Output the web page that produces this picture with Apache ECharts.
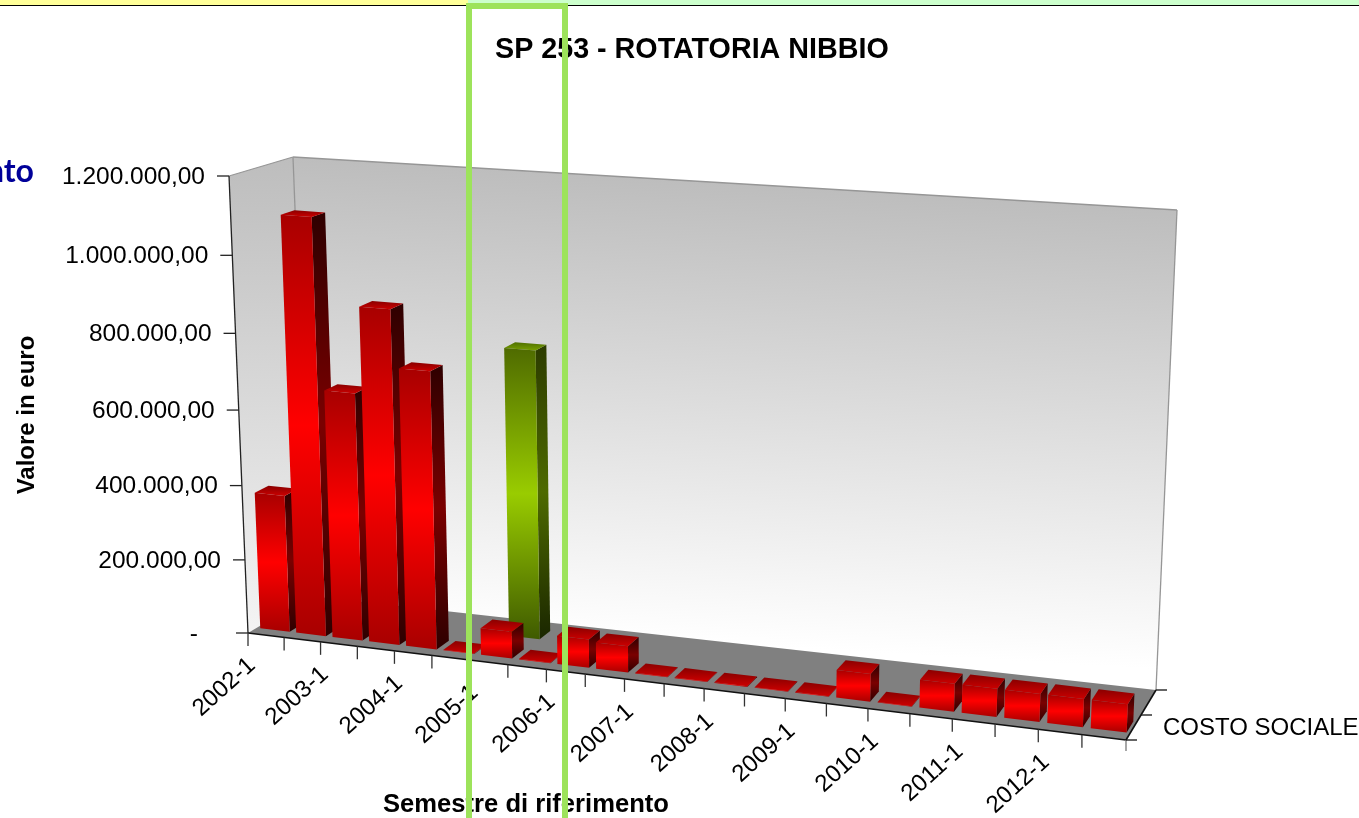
<!DOCTYPE html>
<html>
<head>
<meta charset="utf-8">
<title>SP 253 - ROTATORIA NIBBIO</title>
<script src="https://cdn.jsdelivr.net/npm/echarts@6/dist/echarts.min.js"></script>
<style>
html, body { margin: 0; padding: 0; background: #ffffff; overflow: hidden; }
#chart { width: 1359px; height: 818px; }
</style>
</head>
<body>
<div id="chart"></div>
<script>
var categories = ['2002-1', '2002-2', '2003-1', '2003-2', '2004-1', '2004-2', '2005-1', '2005-2',
  '2006-1', '2006-2', '2007-1', '2007-2', '2008-1', '2008-2', '2009-1', '2009-2', '2010-1', '2010-2',
  '2011-1', '2011-2', '2012-1', '2012-2']
// front row, red
var costoSociale = [370000, 1103000, 660000, 885000, 735000, 1500, 72000, 1500,
  76000, 70000, 1500, 1500, 1500, 1500, 1500, 72000, 1500, 72000,
  72000, 72000, 72000, 72000]
// back row, only one bar
var secondaSerie = [null, null, null, null, null, null, 770000, null,
  null, null, null, null, null, null, null, null, null, null,
  null, null, null, null]
var yTicks = [0, 200000, 400000, 600000, 800000, 1000000, 1200000]
var yTickLabels = ['-', '200.000,00', '400.000,00', '600.000,00', '800.000,00', '1.000.000,00', '1.200.000,00']
var depthTicks = [0, 0.5, 1]

var FONT = '"Liberation Sans", Arial, sans-serif'

// the eight corners of the 3d box as seen on the picture
var FLB = [248, 633], FRB = [1126, 740], FLT = [229, 176], FRT = [1146, 242]
var BLB = [310, 596], BRB = [1156, 690], BLT = [293, 157], BRT = [1177, 210]

function persp (x, k) {
  return x / (x + k * (1 - x))
}
function mix (a, b, t) {
  return [a[0] + (b[0] - a[0]) * t, a[1] + (b[1] - a[1]) * t]
}
// u along categories, v along values, w along depth, all 0..1
function project (u, v, w) {
  var tu = persp(u, 1.11)
  var tv = persp(v, 1.05)
  var front = mix(mix(FLB, FRB, tu), mix(FLT, FRT, tu), tv)
  var back = mix(mix(BLB, BRB, tu), mix(BLT, BRT, tu), tv)
  return mix(front, back, w)
}
function gradient (stops) {
  return new echarts.graphic.LinearGradient(0, 0, 0, 1, stops.map(function (c, i) {
    return {offset: i / (stops.length - 1), color: c}
  }))
}
function poly (points, fill) {
  return {type: 'polygon', shape: {points: points}, style: {fill: fill, stroke: null}}
}
function line (a, b, color, width) {
  return {
    type: 'line',
    shape: {x1: a[0], y1: a[1], x2: b[0], y2: b[1]},
    style: {stroke: color, lineWidth: width || 1.3}
  }
}
function label (text, x, y, opts) {
  return {
    type: 'text',
    x: x,
    y: y,
    rotation: opts.rotation || 0,
    style: {
      text: text,
      fill: '#000000',
      font: (opts.size || 24) + 'px ' + FONT,
      align: opts.align || 'left',
      verticalAlign: 'middle'
    }
  }
}

function renderBar (w0, w1, shift, c) {
  return function (params, api) {
    var val = api.value(1)
    if (val === null || isNaN(val)) return
    var base = api.coord([api.value(0), 0])
    var top = api.coord([api.value(0), val])
    var W = api.getWidth()
    var band = api.size([1, 0])[0]
    var u0 = (base[0] + band * (shift - 0.40)) / W
    var u1 = (base[0] + band * (shift + 0.42)) / W
    var v = 1 - top[1] / api.getHeight()
    var fb0 = project(u0, 0, w0), fb1 = project(u1, 0, w0)
    var ft0 = project(u0, v, w0), ft1 = project(u1, v, w0)
    var bb1 = project(u1, 0, w1)
    var bt0 = project(u0, v, w1), bt1 = project(u1, v, w1)
    return {
      type: 'group',
      children: [
        poly([fb1, bb1, bt1, ft1], gradient(c.side)),
        poly([ft0, ft1, bt1, bt0], gradient(c.top)),
        poly([fb0, fb1, ft1, ft0], gradient(c.front))
      ]
    }
  }
}

function renderFrame (params, api) {
  var backFill = new echarts.graphic.LinearGradient(735, 183, 708, 643,
    [{offset: 0, color: '#bdbdbd'}, {offset: 1, color: '#ffffff'}], true)
  return {
    type: 'group',
    children: [
      poly([BLT, BRT, BRB, BLB], backFill),
      poly([FLT, BLT, BLB, FLB], gradient(['#bdbdbd', '#f4f4f4'])),
      poly([FLB, FRB, BRB, BLB], '#808080'),
      line(FLT, BLT, '#969696'),
      line(BLT, BRT, '#969696'),
      line(BLT, BLB, '#969696'),
      line(BRT, BRB, '#969696'),
      line(FLT, FLB, '#222222'),
      line(FLB, FRB, '#111111', 1.6),
      line(FRB, BRB, '#111111', 1.6)
    ]
  }
}

function renderYTick (params, api) {
  var top = api.coord([0, api.value(0)])
  var v = 1 - top[1] / api.getHeight()
  var p = project(0, v, 0)
  var text = yTickLabels[params.dataIndex]
  var gap = text === '-' ? 38 : 12
  return {
    type: 'group',
    children: [
      line([p[0] - 12, p[1]], p, '#222222'),
      label(text, p[0] - 12 - gap, p[1] + 1, {align: 'right', size: 24.5})
    ]
  }
}

function renderXTick (params, api) {
  var i = api.value(0)
  var W = api.getWidth()
  var x = api.coord([i, 0])[0]
  var band = api.size([1, 0])[0]
  var p = project((x - band / 2) / W, 0, 0)
  var children = [line(p, [p[0], p[1] + 13], '#333333')]
  if (i === categories.length - 1) {
    var e = project((x + band / 2) / W, 0, 0)
    children.push(line(e, [e[0], e[1] + 11], '#777777'))
  }
  if (i % 2 === 0) {
    var c = project(x / W, 0, 0)
    children.push(label(categories[i], c[0] - 14, c[1] + 27, {align: 'right', rotation: 42 * Math.PI / 180}))
  }
  return {type: 'group', children: children}
}

function renderDepthTick (params, api) {
  var p = project(1, 0, api.value(0))
  return line(p, [p[0] + 11, p[1]], '#111111')
}

function pairs (arr) {
  return arr.map(function (v, i) { return [i, v] })
}

var chart = echarts.init(document.getElementById('chart'))
chart.setOption({
  backgroundColor: '#ffffff',
  animation: false,
  title: {
    text: 'SP 253 - ROTATORIA NIBBIO',
    left: 490,
    top: 31,
    textStyle: {fontFamily: FONT, fontSize: 28.7, fontWeight: 'bold', color: '#000000'}
  },
  grid: {left: 0, right: 0, top: 0, bottom: 0},
  xAxis: {type: 'category', data: categories, show: false},
  yAxis: {type: 'value', min: 0, max: 1200000, interval: 200000, show: false},
  series: [
    {type: 'custom', name: 'frame', z: 1, silent: true, data: [[0, 0]], renderItem: renderFrame},
    {type: 'custom', name: 'yTicks', z: 2, silent: true, data: yTicks.map(function (v) { return [v] }), encode: {y: 0}, renderItem: renderYTick},
    {type: 'custom', name: 'xTicks', z: 2, silent: true, data: pairs(categories).map(function (d) { return [d[0]] }), encode: {x: 0}, renderItem: renderXTick},
    {type: 'custom', name: 'depthTicks', z: 2, silent: true, data: depthTicks.map(function (v) { return [v] }), renderItem: renderDepthTick},
    {
      type: 'custom',
      name: 'seconda serie',
      z: 3,
      data: pairs(secondaSerie),
      encode: {x: 0, y: 1},
      renderItem: renderBar(0.62, 0.82, 0.06, {
        front: ['#4f6b00', '#99cc00', '#3f5a00'],
        side: ['#2c3b00', '#4e6a00', '#1a2600'],
        top: ['#4f6f00', '#78a000']
      })
    },
    {
      type: 'custom',
      name: 'COSTO SOCIALE',
      z: 4,
      data: pairs(costoSociale),
      encode: {x: 0, y: 1},
      renderItem: renderBar(0.14, 0.36, 0, {
        front: ['#a80000', '#ff0000', '#a80000'],
        side: ['#2e0000', '#7a0000', '#2e0000'],
        top: ['#8a0000', '#cc0000']
      })
    }
  ],
  graphic: [
    // top strip of the page behind the chart
    {type: 'rect', z: 10, shape: {x: 0, y: 0, width: 468, height: 5}, style: {fill: '#ffff99'}},
    {type: 'rect', z: 10, shape: {x: 468, y: 0, width: 891, height: 5}, style: {fill: '#ccffcc'}},
    {type: 'rect', z: 10, shape: {x: 0, y: 5, width: 1359, height: 1}, style: {fill: '#000000'}},
    {type: 'text', z: 10, x: 34, y: 172, style: {text: 'nto', fill: '#000099', font: 'bold 32px Lato, sans-serif', align: 'right', verticalAlign: 'middle'}},
    {type: 'text', z: 10, x: 27, y: 415, rotation: Math.PI / 2, style: {text: 'Valore in euro', fill: '#000000', font: 'bold 24px ' + FONT, align: 'center', verticalAlign: 'middle'}},
    {type: 'text', z: 10, x: 526, y: 805, style: {text: 'Semestre di riferimento', fill: '#000000', font: 'bold 25.6px ' + FONT, align: 'center', verticalAlign: 'middle'}},
    {type: 'text', z: 10, x: 1163, y: 728, style: {text: 'COSTO SOCIALE', fill: '#000000', font: '24px ' + FONT, verticalAlign: 'middle'}},
    // green selection box on top of everything
    {type: 'rect', z: 20, shape: {x: 469, y: 6, width: 96, height: 830}, style: {fill: null, stroke: '#9de35b', lineWidth: 6}}
  ]
})
</script>
</body>
</html>
